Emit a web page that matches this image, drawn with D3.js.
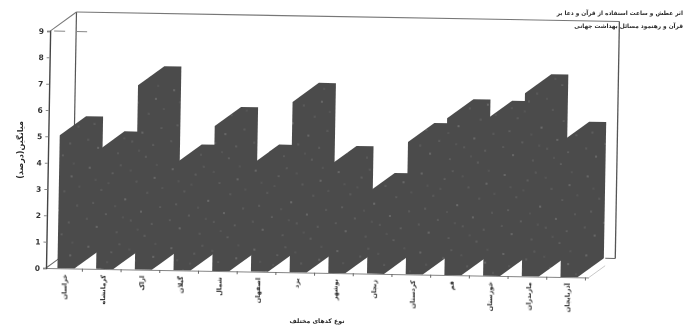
<!DOCTYPE html>
<html lang="fa">
<head>
<meta charset="utf-8">
<script src="https://cdn.jsdelivr.net/npm/d3@7/dist/d3.min.js"></script>
<style>
  html, body { margin: 0; padding: 0; background: #fff; }
  svg { display: block; }
  text { font-family: "DejaVu Sans", sans-serif; fill: #2a2a2a; }
</style>
</head>
<body>
<svg id="chart" width="687" height="330"></svg>
<script>
// Regional means, one bar per region
const regions = ["خراسان", "کرمانشاه", "اراک", "گیلان", "شمال", "اصفهان", "یزد",
                 "بوشهر", "زنجان", "کردستان", "قم", "خوزستان", "مازندران", "آذربایجان"];
const means = [5.05, 4.5, 7.0, 4.05, 5.5, 4.1, 6.47, 4.1, 3.1, 5.02, 5.95, 5.92, 6.95, 5.17];
const yTicks = [0, 1, 2, 3, 4, 5, 6, 7, 8, 9];
const yTitle = "میانگین(درصد)";
const xTitle = "نوع کدهای مختلف";
const noteLines = ["اثر عطش و ساعت استفاده از قرآن و دعا بر", "قرآن و رهنمود مسائل بهداشت جهانی"];

const svg = d3.select("#chart");
const defs = svg.append("defs");

// Soft edge shared by the whole drawing, a little stronger on lettering
const softFilter = (id, amount) => defs.append("filter").attr("id", id)
  .attr("x", "-5%").attr("y", "-5%").attr("width", "110%").attr("height", "110%")
  .append("feGaussianBlur").attr("stdDeviation", amount);
softFilter("soft", 0.45);
softFilter("softText", 0.4);

// Stippled fill used on the bars
const dots = [[5,9,.7],[17,31,.5],[28,14,.6],[41,40,.8],[52,22,.5],[9,44,.6],[36,6,.5],[57,52,.7],
              [22,55,.6],[47,61,.5],[13,68,.7],[33,73,.5],[61,76,.6],[70,18,.7],[76,47,.5],[68,64,.6],
              [24,24,.45],[46,11,.45],[63,33,.5],[11,21,.45],[31,47,.45],[54,70,.45],[78,28,.45],[3,60,.5],
              [39,58,.45],[72,5,.45]];
const stipple = defs.append("pattern").attr("id", "stipple")
  .attr("patternUnits", "userSpaceOnUse").attr("width", 83).attr("height", 79);
stipple.append("rect").attr("width", 83).attr("height", 79).attr("fill", "#4c4c4c");
stipple.selectAll("circle").data(dots).join("circle")
  .attr("cx", d => d[0]).attr("cy", d => d[1]).attr("r", d => d[2])
  .attr("fill", "#b0b0b0").attr("opacity", 0.7);

const originX = 46, originY = 268, frontRight = 589;
const depthX = 26, depthY = 19.5;

const x = d3.scaleBand().domain(regions).range([originX, frontRight])
  .paddingInner(0.56).paddingOuter(0.295).align(0.5);
const y = d3.scaleLinear().domain([0, 9]).range([originY, 31]);

const page = svg.append("g").attr("filter", "url(#soft)");
// The whole frame leans slightly clockwise
const plot = page.append("g").attr("transform", `rotate(1 ${originX} ${originY})`);

const wall = "#555";
const line = (x1, y1, x2, y2, color = wall, width = 1) =>
  plot.append("line").attr("x1", x1).attr("y1", y1).attr("x2", x2).attr("y2", y2)
    .attr("stroke", color).attr("stroke-width", width);

// Back wall and floor outline of the 3-D frame
const top9 = y(9);
line(originX + depthX, top9 - depthY, frontRight + depthX, top9 - depthY, "#777", 1.1);
line(originX + depthX, top9 - depthY, originX + depthX, originY - depthY, "#555", 1.2);
line(frontRight + depthX, top9 - depthY, frontRight + depthX, originY - depthY, "#555", 1.3);
line(originX, top9, originX + depthX, top9 - depthY, "#777", 1);
line(originX, originY, originX + depthX, originY - depthY, "#666", 1);
plot.append("line").attr("x1", frontRight).attr("y1", originY)
  .attr("x2", frontRight + depthX - 10).attr("y2", originY - depthY + 7.5)
  .attr("stroke", "#bbb").attr("stroke-width", 0.8);
line(frontRight + 16, originY - depthY, frontRight + depthX, originY - depthY, "#666", 1);
plot.append("line").attr("x1", originX + 4).attr("y1", top9).attr("x2", originX + 37).attr("y2", top9)
  .attr("stroke", "#888").attr("stroke-dasharray", "11 11");

// Bars as extruded silhouettes, painted left to right
const barPoints = d => {
  const l = x(d.region), r = l + x.bandwidth(), t = y(d.value);
  return [[l, originY], [l, t], [l + depthX, t - depthY], [r + depthX, t - depthY],
          [r + depthX, originY - depthY], [r, originY]].join(" ");
};
plot.append("g").selectAll("polygon")
  .data(regions.map((region, i) => ({ region, value: means[i] })))
  .join("polygon")
  .attr("points", barPoints)
  .attr("fill", "url(#stipple)");

// Front floor edge and the category ticks below it
line(originX, originY + 0.5, frontRight, originY + 0.5, "#777", 0.9);
plot.append("g").selectAll("line").data(regions).join("line")
  .attr("x1", d => x(d) + 25).attr("x2", d => x(d) + 25)
  .attr("y1", originY).attr("y2", originY + 3)
  .attr("stroke", "#666");

// Value axis
const yAxis = plot.append("g").attr("transform", `translate(${originX},0)`)
  .call(d3.axisLeft(y).tickValues(yTicks).tickSize(3).tickPadding(3).tickFormat(d3.format("d")));
yAxis.select(".domain").attr("stroke", "#444").attr("stroke-width", 1.4);
yAxis.selectAll(".tick line").attr("stroke", "#888");
yAxis.selectAll("text").attr("font-size", 7.5).attr("font-weight", "bold").style("fill", "#333");

// Category names, reading upward below each bar
plot.append("g").selectAll("text").data(regions).join("text")
  .attr("transform", d => `translate(${x(d) + x.bandwidth() / 2 - 1},${originY + 6}) rotate(-90)`)
  .attr("text-anchor", "end").attr("dy", "0.32em")
  .attr("font-size", 6.5).attr("font-weight", "bold")
  .attr("filter", "url(#softText)")
  .text(d => d);

// Titles and note
page.append("text")
  .attr("transform", "translate(20,150) rotate(-90)")
  .attr("text-anchor", "middle").attr("dy", "0.32em")
  .attr("font-size", 8).attr("font-weight", "bold")
  .attr("filter", "url(#softText)")
  .text(yTitle);
page.append("text")
  .attr("x", 317).attr("y", 323).attr("text-anchor", "middle")
  .attr("font-size", 6.2).attr("font-weight", "bold")
  .attr("filter", "url(#softText)")
  .text(xTitle);
page.append("g").selectAll("text").data(noteLines).join("text")
  .attr("x", 683).attr("y", (d, i) => 15 + i * 13).attr("text-anchor", "end")
  .attr("font-size", 5.8).attr("font-weight", "bold")
  .attr("filter", "url(#softText)")
  .text(d => d);
</script>
</body>
</html>
